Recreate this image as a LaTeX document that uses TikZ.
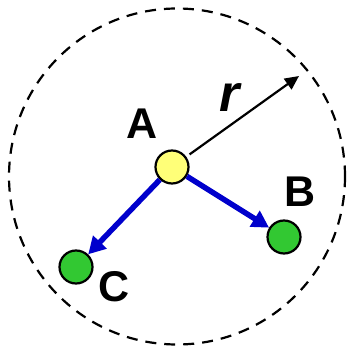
\documentclass[tikz,border=0pt]{standalone}
\usepackage{fontspec}
\setmainfont{Liberation Sans}
\usepackage{tikz}
\usetikzlibrary{arrows.meta}

\definecolor{ptyellow}{RGB}{255,255,120}
\definecolor{ptgreen}{RGB}{50,200,50}
\definecolor{ptblue}{RGB}{0,0,204}

\begin{document}
\begin{tikzpicture}[
			x=1pt,y=1pt,
			font=\fontsize{43}{43}\selectfont\bfseries,
			pt/.style={circle,draw,line width=2.2pt,minimum size=33pt,inner sep=0pt},
			hub/.style={pt,fill=ptyellow},
			leaf/.style={pt,fill=ptgreen},
			link/.style={ptblue,line width=5.5pt,-{Triangle[length=17pt,width=18pt]}},
			]
			\useasboundingbox (0,0) rectangle (347,347);
			
			% Neighbourhood of A
			\draw[line width=2.2pt,dash pattern=on 11pt off 8pt] (177,170.5) circle (168);
			
			% Points
			\node[hub]  (A) at (172,180) {};
			\node[leaf] (B) at (284,110) {};
			\node[leaf] (C) at (76,80) {};
			
			% Labels
			\node (lA) at (142.5,223) {A};
			\node (lB) at (300,155) {B};
			\node (lC) at (114.5,60.5) {C};
			
			% Radius
			\coordinate (rim) at (299,271);
			\draw[line width=2.2pt,-{Triangle[length=14pt,width=13pt]},shorten <=4pt] (A) -- (rim);
			\node[font=\fontsize{52}{52}\selectfont\bfseries\itshape] (lr) at (230,249.5) {r};
			
			% Links
			\draw[link] (A) -- (B);
			\draw[link] (A) -- (C);
			
		\end{tikzpicture}
\end{document}
